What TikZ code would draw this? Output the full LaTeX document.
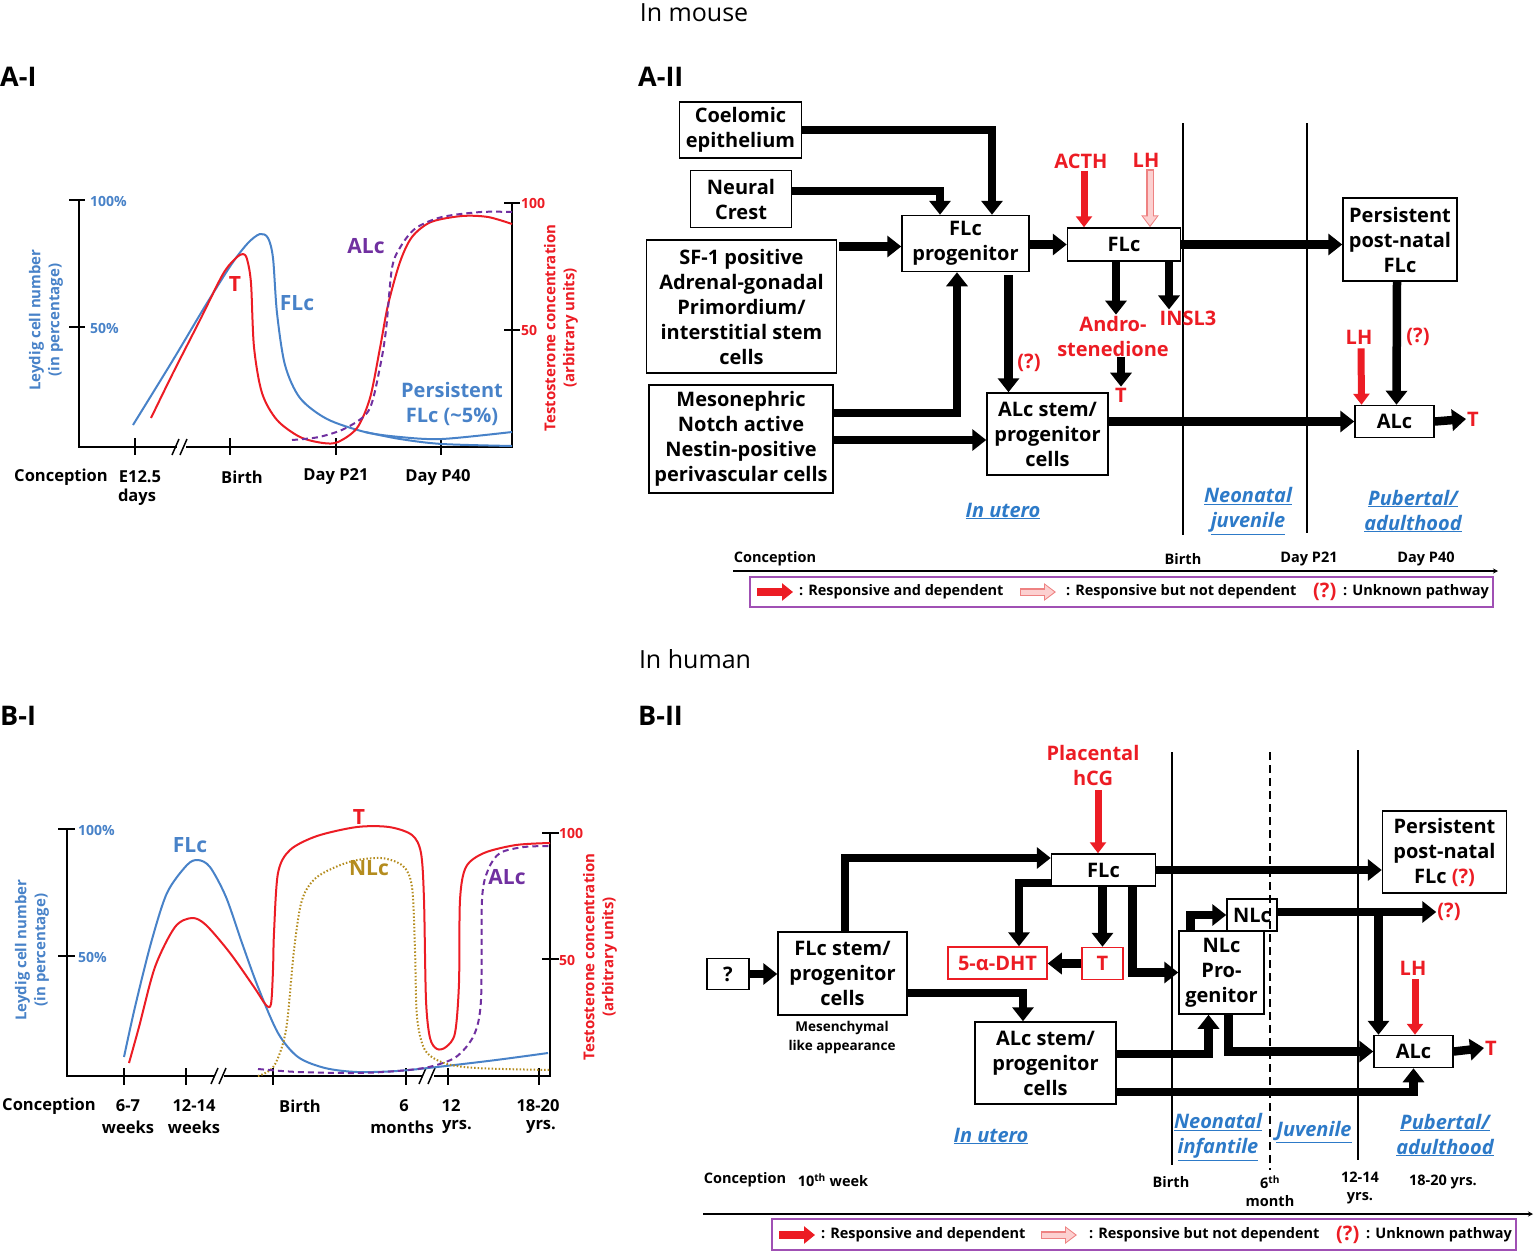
\documentclass[tikz,border=0pt]{standalone}
\usepackage{fontspec}
\setmainfont{Open Sans}
\usetikzlibrary{arrows.meta,calc}
\definecolor{myred}{RGB}{236,28,36}
\definecolor{cblue}{RGB}{72,130,200}
\definecolor{pblue}{RGB}{45,122,200}
\definecolor{cpurple}{RGB}{112,48,160}
\definecolor{colive}{RGB}{180,140,30}
\definecolor{legp}{RGB}{160,80,180}
\definecolor{pinkB}{RGB}{238,130,130}
\definecolor{pinkF}{RGB}{252,208,208}
\newcommand\myfA{\fontsize{20}{25}\selectfont\bfseries}
\newcommand\myfB{\fontsize{16.5}{21}\selectfont\bfseries}
\newcommand\myfC{\fontsize{14.5}{18}\selectfont\bfseries}
\newcommand\myfD{\fontsize{14}{18}\selectfont\bfseries}
\newcommand\myfE{\fontsize{15}{19}\selectfont\bfseries}
\newcommand\myfP{\fontsize{20}{25}\selectfont\bfseries\itshape}
\newcommand\myfM{\fontsize{13.5}{19}\selectfont\bfseries}
\begin{document}
\begin{tikzpicture}[x=1pt,y=-1pt,
  box/.style={draw, line width=1.5pt, align=center, inner sep=0pt, font=\myfA},
  rbox/.style={box, draw=myred, text=myred},
  txt/.style={inner sep=1pt, align=center},
  ttl/.style={inner sep=0pt, font=\fontsize{25}{30}\selectfont},
  pan/.style={inner sep=0pt, anchor=west, font=\fontsize{27}{30}\selectfont\bfseries},
  blk/.style={draw=black, line width=8.5pt, -{Triangle[length=14pt,width=21pt]}},
  redarr/.style={draw=myred, line width=7pt, -{Triangle[length=11pt,width=16pt]}},
  pinkout/.style={draw=pinkB, line width=7.5pt, -{Triangle[length=12pt,width=17pt]}},
  pinkin/.style={draw=pinkF, line width=5pt, shorten <=1.2pt, shorten >=1.8pt, -{Triangle[length=9pt,width=13pt]}},
  axis/.style={line width=2.2pt},
  curve/.style={line width=2pt, line join=round},
  per/.style={txt, text=pblue, font=\myfP},
  redt/.style={txt, text=myred, font=\myfA},
  sep/.style={line width=1.3pt},
  tline/.style={line width=1.8pt, -{Stealth[length=5pt,width=5pt]}},
  legbox/.style={draw=legp, line width=1.6pt, inner sep=0pt},
  legt/.style={inner sep=0pt, anchor=west, font=\myfC},
  xl/.style={inner sep=0pt, font=\myfB},
  tl/.style={inner sep=0pt, font=\myfC, align=center}
]
\useasboundingbox (0,0) rectangle (1535,1253);

% ---------------- titles ----------------
\node[ttl] (tmouse) at (694,13) {In mouse};
\node[ttl] (thuman) at (695,659) {In human};
\node[pan] (pAI) at (0,77) {A-I};
\node[pan] (pAII) at (638,77) {A-II};
\node[pan] (pBI) at (0,716) {B-I};
\node[pan] (pBII) at (638,716) {B-II};

% ================= A-I chart =================
\draw[axis] (79,200) -- (79,447) -- (177,447);
\draw[axis] (186,447) -- (512,447) -- (512,203);
\draw[line width=1.5pt] (172,455) -- (179,439) (180,455) -- (187,439);
\draw[axis] (69,200) -- (85,200) (69,327) -- (85,327);
\draw[axis] (504,203) -- (520,203) (504,330) -- (520,330);
\foreach \xx in {135,230,336,441} \draw[axis] (\xx,438) -- (\xx,455);
\node[inner sep=0pt, anchor=west, text=cblue, font=\myfD] (a100) at (90,201) {100\%};
\node[inner sep=0pt, anchor=west, text=cblue, font=\myfD] (a50) at (90,328) {50\%};
\node[inner sep=0pt, anchor=west, text=myred, font=\myfD] (ar100) at (521,203) {100};
\node[inner sep=0pt, anchor=west, text=myred, font=\myfD] (ar50) at (521,330) {50};
\node[rotate=90, align=center, inner sep=0pt, text=cblue, font=\myfE] (aly) at (46,320) {Leydig cell number\\(in percentage)};
\node[rotate=90, align=center, inner sep=0pt, text=myred, font=\myfE] (ary) at (561,328) {Testosterone concentration\\(arbitrary units)};
\node[xl] (ax1) at (61,477) {Conception};
\node[xl] (ax2) at (140,477) {E12.5};
\node[xl] (ax2b) at (137,497) {days};
\node[xl] (ax3) at (242,477) {Birth};
\node[xl] (ax4) at (336,477) {Day P21};
\node[xl] (ax5) at (438,477) {Day P40};
% curves
\draw[curve, cblue] plot[smooth] coordinates {(133,425) (173,360) (204,308) (231,265) (248,243) (260,234) (268,238) (273,258) (277,313) (285,365) (300,398) (327,419) (365,432) (400,437) (442,439) (512,432)};
\draw[curve, cblue] plot[smooth] coordinates {(365,432) (400,439) (442,444) (512,446)};
\draw[curve, myred] plot[smooth] coordinates {(151,418) (173,373) (200,320) (223,274) (236,258) (243,254) (247,259) (251,283) (254,347) (262,393) (277,420) (300,437) (323,443) (338,442) (357,428) (370,398) (380,348) (388,305) (400,262) (412,237) (431,222) (462,216) (488,217) (512,224)};
\draw[curve, cpurple, dash pattern=on 6pt off 4pt] plot[smooth] coordinates {(292,440) (319,437) (346,428) (369,410) (380,367) (386,330) (392,268) (401,246) (416,228) (442,217) (481,212) (512,212)};
\node[txt, text=myred, font=\fontsize{21}{25}\selectfont\bfseries] (aT) at (235,284) {T};
\node[txt, text=cblue, font=\fontsize{21}{25}\selectfont\bfseries] (aF) at (297,303) {FLc};
\node[txt, text=cpurple, font=\fontsize{21}{25}\selectfont\bfseries] (aA) at (366,246) {ALc};
\node[txt, text=cblue, font=\fontsize{20}{25}\selectfont\bfseries] (aP) at (452,404) {Persistent\\FLc (\textasciitilde 5\%)};

% ================= A-II flow =================
\draw[sep] (1183,123) -- (1183,535);
\draw[sep] (1307,123) -- (1307,533);

\node[box, minimum width=122pt, minimum height=56pt] (coel) at (740.5,130) {Coelomic\\epithelium};
\node[box, minimum width=101pt, minimum height=57pt] (nc) at (741,199) {Neural\\Crest};
\node[box, minimum width=190pt, minimum height=133pt] (sf1) at (741.5,306.5) {SF-1 positive\\Adrenal-gonadal\\Primordium/\\interstitial stem\\cells};
\node[box, minimum width=184pt, minimum height=108pt] (meso) at (741,439) {Mesonephric\\Notch active\\Nestin-positive\\perivascular cells};
\node[box, minimum width=127pt, minimum height=56pt] (flcp) at (965.5,243.5) {FLc\\progenitor};
\node[box, minimum width=113pt, minimum height=33pt] (flc) at (1124,244.5) {FLc};
\node[box, minimum width=121pt, minimum height=82pt] (alcs) at (1047.5,434) {ALc stem/\\progenitor\\cells};
\node[box, minimum width=114pt, minimum height=83pt] (pers) at (1400,239.5) {Persistent\\post-natal\\FLc};
\node[box, minimum width=79pt, minimum height=32pt] (alc) at (1394.5,421.5) {ALc};

\node[redt] (acth) at (1081,161) {ACTH};
\node[redt] (lhA) at (1146,160) {LH};
\node[redt] (andro) at (1113,336) {Andro-\\stenedione};
\node[redt] (insl) at (1188,318) {INSL3};
\node[redt] (tA1) at (1121,395) {T};
\node[redt] (qA1) at (1029,363) {(?)};
\node[redt] (lhA2) at (1359,337) {LH};
\node[redt] (qA2) at (1418,337) {(?)};
\node[redt, anchor=west] (tA2) at (1466,419) {T};

\coordinate (jA1) at ($(flcp.south)+(43,0)$);
\draw[blk] (coel.east) -| ($(flcp.north)+(26.5,0)$);
\draw[blk] ($(nc.east)+(0,-8)$) -| ($(flcp.north)+(-25.5,0)$);
\draw[blk] ($(sf1.east)+(2,-60)$) -- ($(flcp.west)+(0,3)$);
\draw[blk] ($(meso.east)+(0,-26)$) -| ($(flcp.south)+(-8.5,0)$);
\draw[blk] ($(meso.east)+(0,1)$) -- ($(alcs.west)+(0,6)$);
\draw[blk] (flcp.east |- flc.west) -- (flc.west);
\draw[blk] ($(jA1)+(0,3)$) -- (jA1 |- alcs.north);
\draw[blk] ($(flc.south)+(-8,0)$) -- ($(andro.north)+(3,0)$);
\draw[blk] ($(flc.south)+(45,0)$) -- ($(insl.north)+(-19,0)$);
\draw[blk] ($(andro.south)+(8,0)$) -- ($(tA1.north)+(0,0)$);
\draw[blk] (flc.east) -- (flc.east -| pers.west);
\draw[blk] (alcs.east |- alc.west) -- (alc.west);
\draw[blk] ($(pers.south)+(-3,0)$) -- ($(alc.north)+(2,0)$);
\draw[blk] (alc.east) -- (tA2.west);
\draw[redarr] ($(acth.south)+(3,1)$) -- ($(flc.north)+(-40,0)$);
\draw[pinkout] ($(lhA.south)+(4,1)$) -- ($(flc.north)+(26,0)$);
\draw[pinkin] ($(lhA.south)+(4,1)$) -- ($(flc.north)+(26,0)$);
\draw[redarr] ($(lhA2.south)+(2,3)$) -- ($(alc.north)+(-33,0)$);

\node[per] (pA1) at (1003,511) {\underline{In utero}};
\node[per] (pA2) at (1248,511) {\underline{Neonatal}\\\underline{juvenile}};
\node[per] (pA3) at (1413,511) {\underline{Pubertal/}\\\underline{adulthood}};

\node[tl] (tA0) at (775,559) {Conception};
\node[tl] (tAb) at (1183,559) {Birth};
\node[tl] (tA21) at (1309,559) {Day P21};
\node[tl] (tA40) at (1426,559) {Day P40};
\coordinate (tlA1) at (733,571);
\coordinate (tlA2) at (1498,571);
\draw[tline] (tlA1) -- (tlA2);

\node[legbox, minimum width=743pt, minimum height=30pt] (legA) at (1121.5,592) {};
\coordinate (lA1) at (757,592); \coordinate (lA2) at (793,592);
\coordinate (lA3) at (1020,592); \coordinate (lA4) at (1056,592);
\draw[redarr, line width=8pt, -{Triangle[length=11pt,width=17pt]}] (lA1) -- (lA2);
\draw[pinkout] (lA3) -- (lA4);
\draw[pinkin] (lA3) -- (lA4);
\node[legt] (lgA1) at (799,592) {: Responsive and dependent};
\node[legt] (lgA2) at (1066,592) {: Responsive but not dependent};
\node[legt, text=myred, font=\fontsize{20}{24}\selectfont\bfseries] (lgA3) at (1313,592) {(?)};
\node[legt] (lgA4) at (1343,592) {: Unknown pathway};

% ================= B-I chart =================
\draw[axis] (67,829) -- (67,1076) -- (215,1076);
\draw[axis] (224,1076) -- (422,1076);
\draw[axis] (434,1076) -- (550,1076) -- (550,833);
\draw[line width=1.5pt] (211,1084) -- (218,1068) (219,1084) -- (226,1068);
\draw[line width=1.5pt] (419,1084) -- (426,1068) (428,1084) -- (435,1068);
\draw[axis] (58,829) -- (75,829) (58,956) -- (75,956);
\draw[axis] (542,833) -- (559,833) (542,959) -- (559,959);
\foreach \xx in {124,186,273,406,448,539} \draw[axis] (\xx,1068) -- (\xx,1085);
\node[inner sep=0pt, anchor=west, text=cblue, font=\myfD] (b100) at (78,830) {100\%};
\node[inner sep=0pt, anchor=west, text=cblue, font=\myfD] (b50) at (78,957) {50\%};
\node[inner sep=0pt, anchor=west, text=myred, font=\myfD] (br100) at (559,833) {100};
\node[inner sep=0pt, anchor=west, text=myred, font=\myfD] (br50) at (559,960) {50};
\node[rotate=90, align=center, inner sep=0pt, text=cblue, font=\myfE] (bly) at (32,950) {Leydig cell number\\(in percentage)};
\node[rotate=90, align=center, inner sep=0pt, text=myred, font=\myfE] (bry) at (600,957) {Testosterone concentration\\(arbitrary units)};
\node[xl] (bx1) at (49,1106) {Conception};
\node[xl] (bx2) at (128,1106) {6-7};
\node[xl] (bx2b) at (128,1127) {weeks};
\node[xl] (bx3) at (194,1106) {12-14};
\node[xl] (bx3b) at (194,1127) {weeks};
\node[xl] (bx4) at (300,1106) {Birth};
\node[xl] (bx5) at (404,1106) {6};
\node[xl] (bx5b) at (402,1127) {months};
\node[xl] (bx6) at (451,1106) {12};
\node[xl] (bx6b) at (457,1127) {yrs.};
\node[xl] (bx7) at (538,1106) {18-20};
\node[xl] (bx7b) at (541,1127) {yrs.};
\draw[curve, cblue] plot[smooth] coordinates {(124,1057) (135,1007) (151,943) (167,893) (187,865) (198,860) (210,867) (226,897) (242,943) (258,987) (278,1033) (298,1057) (325,1068) (357,1072) (397,1071) (437,1067) (496,1060) (548,1053)};
\draw[curve, myred] plot[smooth, tension=0.5] coordinates {(129,1063) (139,1027) (155,967) (175,927) (192,918) (206,925) (230,953) (254,987) (266,1005) (271,1004) (273,970) (274,933) (278,873) (290,850) (317,836) (357,827) (389,827) (412,835) (421,853) (424,900) (426,1000) (430,1038) (437,1049) (446,1047) (455,1033) (459,983) (460,900) (466,867) (484,853) (516,845) (550,843)};
\draw[curve, colive, line width=2pt, dash pattern=on 1.5pt off 2pt] plot[smooth] coordinates {(258,1076) (274,1066) (286,1030) (294,950) (302,900) (317,877) (349,862) (381,858) (403,866) (412,887) (415,950) (417,1017) (425,1050) (444,1063) (476,1068) (550,1070)};
\draw[curve, cpurple, dash pattern=on 6pt off 4pt] plot[smooth] coordinates {(258,1069) (298,1072) (357,1073) (397,1071) (429,1067) (456,1057) (474,1035) (481,1000) (482,900) (488,870) (500,853) (524,847) (550,846)};
\node[txt, text=cblue, font=\fontsize{21}{25}\selectfont\bfseries] (bF) at (190,845) {FLc};
\node[txt, text=myred, font=\fontsize{21}{25}\selectfont\bfseries] (bT) at (359,817) {T};
\node[txt, text=colive, font=\fontsize{21}{25}\selectfont\bfseries] (bN) at (369,868) {NLc};
\node[txt, text=cpurple, font=\fontsize{21}{25}\selectfont\bfseries] (bA) at (507,877) {ALc};

% ================= B-II flow =================
\draw[sep] (1172,752) -- (1172,1165);
\draw[sep, dash pattern=on 8pt off 5pt, line width=1.6pt] (1270,752) -- (1270,1170);
\draw[sep] (1358,750) -- (1358,1160);

\node[box, minimum width=42pt, minimum height=31pt] (qbox) at (728,974) {?};
\node[box, minimum width=129pt, minimum height=83pt] (flcs) at (842.5,973.5) {FLc stem/\\progenitor\\cells};
\node[txt, font=\myfM] (mesen) at (842,1037) {Mesenchymal\\like appearance};
\node[box, minimum width=104pt, minimum height=32pt] (hflc) at (1103.5,870) {FLc};
\node[rbox, minimum width=99pt, minimum height=32pt] (dht) at (997.5,963) {5-α-DHT};
\node[rbox, minimum width=41pt, minimum height=32pt] (ht) at (1102.5,963.5) {T};
\node[box, minimum width=141pt, minimum height=82pt] (halcs) at (1045.5,1063) {ALc stem/\\progenitor\\cells};
\node[box, minimum width=50pt, minimum height=32pt] (nlc) at (1252,915) {NLc};
\node[box, minimum width=85pt, minimum height=83pt] (nlcp) at (1221.5,972.5) {NLc\\Pro-\\genitor};
\node[box, minimum width=124pt, minimum height=82pt] (hpers) at (1444.5,852) {Persistent\\post-natal\\FLc {\color{myred}(?)}};
\node[box, minimum width=79pt, minimum height=32pt] (halc) at (1413.5,1051.5) {ALc};

\node[redt] (hcg) at (1093,765) {Placental\\hCG};
\node[redt] (qB1) at (1449,912) {(?)};
\node[redt] (lhB) at (1413,968) {LH};
\node[redt, anchor=west] (tB2) at (1484,1048) {T};

\coordinate (jB1) at ($(halc.north)+(-35,0)$);
\draw[blk] (qbox.east) -- (qbox.east -| flcs.west);
\draw[blk] ($(flcs.north)+(2.5,0)$) |- ($(hflc.west)+(0,-12)$);
\draw[blk] ($(hflc.west)+(0,13)$) -| ($(dht.north)+(21.5,0)$);
\draw[blk] (ht.north |- hflc.south) -- (ht.north);
\draw[blk] (ht.west) -- (ht.west -| dht.east);
\draw[blk] ($(hflc.south)+(29,0)$) |- (nlcp.west);
\draw[blk] (hflc.east) -- (hflc.east -| hpers.west);
\draw[blk] ($(flcs.east)+(0,19.5)$) -| ($(halcs.north)+(-22.5,0)$);
\draw[blk] ($(nlcp.north)+(-31,0)$) |- (nlc.west);
\draw[blk] ($(nlc.east)+(0,-3)$) -- (qB1.west);
\draw[blk] (jB1 |- qB1.west) -- (jB1);
\draw[blk] ($(halcs.east)+(0,-9)$) -| ($(nlcp.south)+(-13,0)$);
\draw[blk] ($(nlcp.south)+(7,0)$) |- (halc.west);
\draw[blk] ($(halcs.east)+(0,29)$) -| (halc.south);
\draw[blk] (halc.east) -- (tB2.west);
\draw[redarr] ($(hcg.south)+(5,4)$) -- ($(hflc.north)+(-5.5,0)$);
\draw[redarr] ($(lhB.south)+(2,3)$) -- ($(halc.north)+(1.5,0)$);

\node[per] (pB1) at (991,1136) {\underline{In utero}};
\node[per] (pB2) at (1218,1137) {\underline{Neonatal}\\\underline{infantile}};
\node[per] (pB3) at (1314,1132) {\underline{Juvenile}};
\node[per] (pB4) at (1445,1135) {\underline{Pubertal/}\\\underline{adulthood}};

\node[tl] (tB0) at (745,1180) {Conception};
\node[tl] (tB1) at (833,1180) {10\textsuperscript{th} week};
\node[tl] (tBb) at (1171,1182) {Birth};
\node[tl] (tB6) at (1270,1191) {6\textsuperscript{th}\\month};
\node[tl] (tB12) at (1360,1188) {12-14\\yrs.};
\node[tl] (tB18) at (1443,1182) {18-20 yrs.};
\coordinate (tlB1) at (703,1214);
\coordinate (tlB2) at (1533,1214);
\draw[tline] (tlB1) -- (tlB2);

\node[legbox, minimum width=744pt, minimum height=31pt] (legB) at (1144,1234.5) {};
\coordinate (lB1) at (779,1235); \coordinate (lB2) at (815,1235);
\coordinate (lB3) at (1041,1235); \coordinate (lB4) at (1077,1235);
\draw[redarr, line width=8pt, -{Triangle[length=11pt,width=17pt]}] (lB1) -- (lB2);
\draw[pinkout] (lB3) -- (lB4);
\draw[pinkin] (lB3) -- (lB4);
\node[legt] (lgB1) at (821,1235) {: Responsive and dependent};
\node[legt] (lgB2) at (1089,1235) {: Responsive but not dependent};
\node[legt, text=myred, font=\fontsize{20}{24}\selectfont\bfseries] (lgB3) at (1336,1235) {(?)};
\node[legt] (lgB4) at (1366,1235) {: Unknown pathway};
\end{tikzpicture}
\end{document}
